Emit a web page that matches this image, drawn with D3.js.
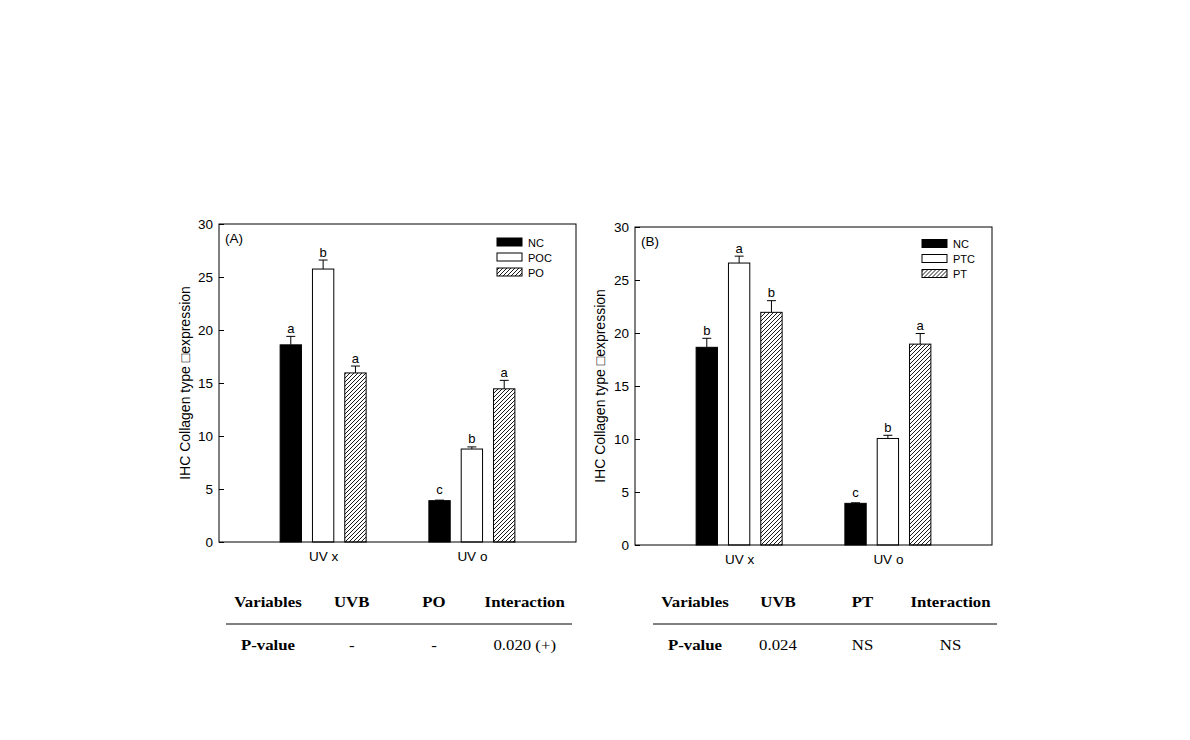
<!DOCTYPE html>
<html>
<head>
<meta charset="utf-8">
<script src="https://cdn.jsdelivr.net/npm/d3@7"></script>
<style>
  html, body { margin: 0; padding: 0; background: #fff; }
  svg { display: block; }
</style>
</head>
<body>
<svg id="chart" width="1190" height="740"></svg>
<script>
// ---------------- DATA ----------------
const categories = ["UV x", "UV o"];
const yTicks = [0, 5, 10, 15, 20, 25, 30];
const yLabel = "IHC Collagen type \u25A1expression";

// Panel A
const seriesA = ["NC", "POC", "PO"];
const meanA_NC  = [18.6, 3.9];
const meanA_POC = [25.75, 8.77];
const meanA_PO  = [15.95, 14.45];
const errA_NC   = [0.8, 0.05];
const errA_POC  = [0.85, 0.2];
const errA_PO   = [0.65, 0.8];
const letA_NC   = ["a", "c"];
const letA_POC  = ["b", "b"];
const letA_PO   = ["a", "a"];

// Panel B
const seriesB = ["NC", "PTC", "PT"];
const meanB_NC  = [18.65, 3.93];
const meanB_PTC = [26.6, 10.05];
const meanB_PT  = [21.95, 18.95];
const errB_NC   = [0.85, 0.05];
const errB_PTC  = [0.65, 0.3];
const errB_PT   = [1.1, 1.0];
const letB_NC   = ["b", "c"];
const letB_PTC  = ["a", "b"];
const letB_PT   = ["b", "a"];

// Tables
const tableHeadA = ["Variables", "UVB", "PO", "Interaction"];
const tableRowA  = ["P-value", "-", "-", "0.020 (+)"];
const tableHeadB = ["Variables", "UVB", "PT", "Interaction"];
const tableRowB  = ["P-value", "0.024", "NS", "NS"];

// ---------------- DRAW ----------------
const svg = d3.select("#chart");
const SANS = "'Liberation Sans', Arial, sans-serif";
const SERIF = "'Liberation Serif', 'Times New Roman', serif";
const fills = ["#000", "#fff", "url(#hatch)"];

const defs = svg.append("defs");
defs.append("pattern")
  .attr("id", "hatch")
  .attr("patternUnits", "userSpaceOnUse")
  .attr("width", 4).attr("height", 4)
  .call(p => {
    p.append("rect").attr("width", 4).attr("height", 4).attr("fill", "#fff");
    p.append("path")
      .attr("d", "M-1,1 l2,-2 M0,4 l4,-4 M3,5 l2,-2")
      .attr("stroke", "#000").attr("stroke-width", 0.9);
  });

function drawPanel(cfg) {
  const { left, top, width, height, tag, names, means, errs, letters, legendDx, legendDy } = cfg;
  const g = svg.append("g").attr("transform", `translate(${left},${top})`);

  const y = d3.scaleLinear().domain([0, 30]).range([height, 0]);
  const x = d3.scalePoint().domain(categories).range([0, width]).padding(0.7);
  const xs = d3.scaleBand().domain(names).range([-48.5, 48.5]).paddingInner(0.34).paddingOuter(0.17);

  names.forEach((name, si) => {
    categories.forEach((cat, ci) => {
      const bx = x(cat) + xs(name);
      const v = means[si][ci];
      const e = errs[si][ci];
      const cx = bx + xs.bandwidth() / 2;
      g.append("line")
        .attr("x1", cx).attr("x2", cx)
        .attr("y1", y(v)).attr("y2", y(v + e))
        .attr("stroke", "#000").attr("stroke-width", 1);
      g.append("line")
        .attr("x1", cx - 4.5).attr("x2", cx + 4.5)
        .attr("y1", y(v + e)).attr("y2", y(v + e))
        .attr("stroke", "#000").attr("stroke-width", 1);
      g.append("rect")
        .attr("x", bx).attr("y", y(v))
        .attr("width", xs.bandwidth()).attr("height", y(0) - y(v))
        .attr("fill", fills[si]).attr("stroke", "#000").attr("stroke-width", 1);
      g.append("text")
        .attr("x", cx).attr("y", y(v + e) - (e < 0.1 ? 6 : 3.5))
        .attr("text-anchor", "middle")
        .attr("font-family", SANS).attr("font-size", 13).attr("fill", "#000")
        .text(letters[si][ci]);
    });
  });

  g.append("rect")
    .attr("x", 0).attr("y", 0).attr("width", width).attr("height", height)
    .attr("fill", "none").attr("stroke", "#000").attr("stroke-width", 1);

  const yAxis = d3.axisLeft(y).tickValues(yTicks).tickSize(-5).tickPadding(6);
  const ya = g.append("g").call(yAxis);
  ya.select(".domain").remove();
  ya.selectAll("text").attr("font-family", SANS).attr("font-size", 13.5).attr("fill", "#000");
  ya.selectAll("line").attr("stroke", "#000");

  const xAxis = d3.axisBottom(x).tickSize(0).tickPadding(9);
  const xa = g.append("g").attr("transform", `translate(0,${height})`).call(xAxis);
  xa.select(".domain").remove();
  xa.selectAll("text").attr("font-family", SANS).attr("font-size", 13.5).attr("fill", "#000");

  g.append("text")
    .attr("transform", `translate(${cfg.ylabX - left},${height / 2}) rotate(-90)`)
    .attr("text-anchor", "middle").attr("dy", "0.35em")
    .attr("font-family", SANS).attr("font-size", 14).attr("fill", "#000")
    .text(yLabel);

  g.append("text")
    .attr("x", 6).attr("y", 19)
    .attr("font-family", SANS).attr("font-size", 13.5).attr("fill", "#000")
    .text(tag);

  const lg = g.append("g").attr("transform", `translate(${width - legendDx},${legendDy})`);
  names.forEach((name, si) => {
    lg.append("rect")
      .attr("x", 0).attr("y", si * 15)
      .attr("width", 25).attr("height", 8)
      .attr("fill", fills[si]).attr("stroke", "#000").attr("stroke-width", 1);
    lg.append("text")
      .attr("x", 31).attr("y", si * 15 + 8.5)
      .attr("font-family", SANS).attr("font-size", 11).attr("fill", "#000")
      .text(name);
  });
}

drawPanel({
  left: 219, top: 224, width: 357, height: 318, tag: "(A)", ylabX: 185,
  names: seriesA,
  means: [meanA_NC, meanA_POC, meanA_PO],
  errs: [errA_NC, errA_POC, errA_PO],
  letters: [letA_NC, letA_POC, letA_PO],
  legendDx: 79, legendDy: 14
});
drawPanel({
  left: 635, top: 227, width: 357, height: 318, tag: "(B)", ylabX: 600,
  names: seriesB,
  means: [meanB_NC, meanB_PTC, meanB_PT],
  errs: [errB_NC, errB_PTC, errB_PT],
  letters: [letB_NC, letB_PTC, letB_PT],
  legendDx: 70, legendDy: 12.5
});

function drawTable(cfg) {
  const { centers, head, row, lineX1, lineX2 } = cfg;
  const g = svg.append("g");
  head.forEach((t, i) => {
    g.append("text")
      .attr("transform", `translate(${centers[i]},607) scale(1.2,1)`)
      .attr("text-anchor", "middle")
      .attr("font-family", SERIF).attr("font-weight", "bold").attr("font-size", 14).attr("fill", "#000")
      .text(t);
  });
  g.append("line")
    .attr("x1", lineX1).attr("x2", lineX2).attr("y1", 624).attr("y2", 624)
    .attr("stroke", "#000").attr("stroke-width", 1);
  row.forEach((t, i) => {
    g.append("text")
      .attr("transform", `translate(${centers[i]},650) scale(1.2,1)`)
      .attr("text-anchor", "middle")
      .attr("font-family", SERIF).attr("font-weight", i === 0 ? "bold" : "normal").attr("font-size", 14).attr("fill", "#000")
      .text(t);
  });
}
drawTable({ centers: [268, 351.7, 434, 524.7], head: tableHeadA, row: tableRowA, lineX1: 226, lineX2: 572 });
drawTable({ centers: [695, 778, 862.5, 950.5], head: tableHeadB, row: tableRowB, lineX1: 653, lineX2: 997 });
</script>
</body>
</html>
